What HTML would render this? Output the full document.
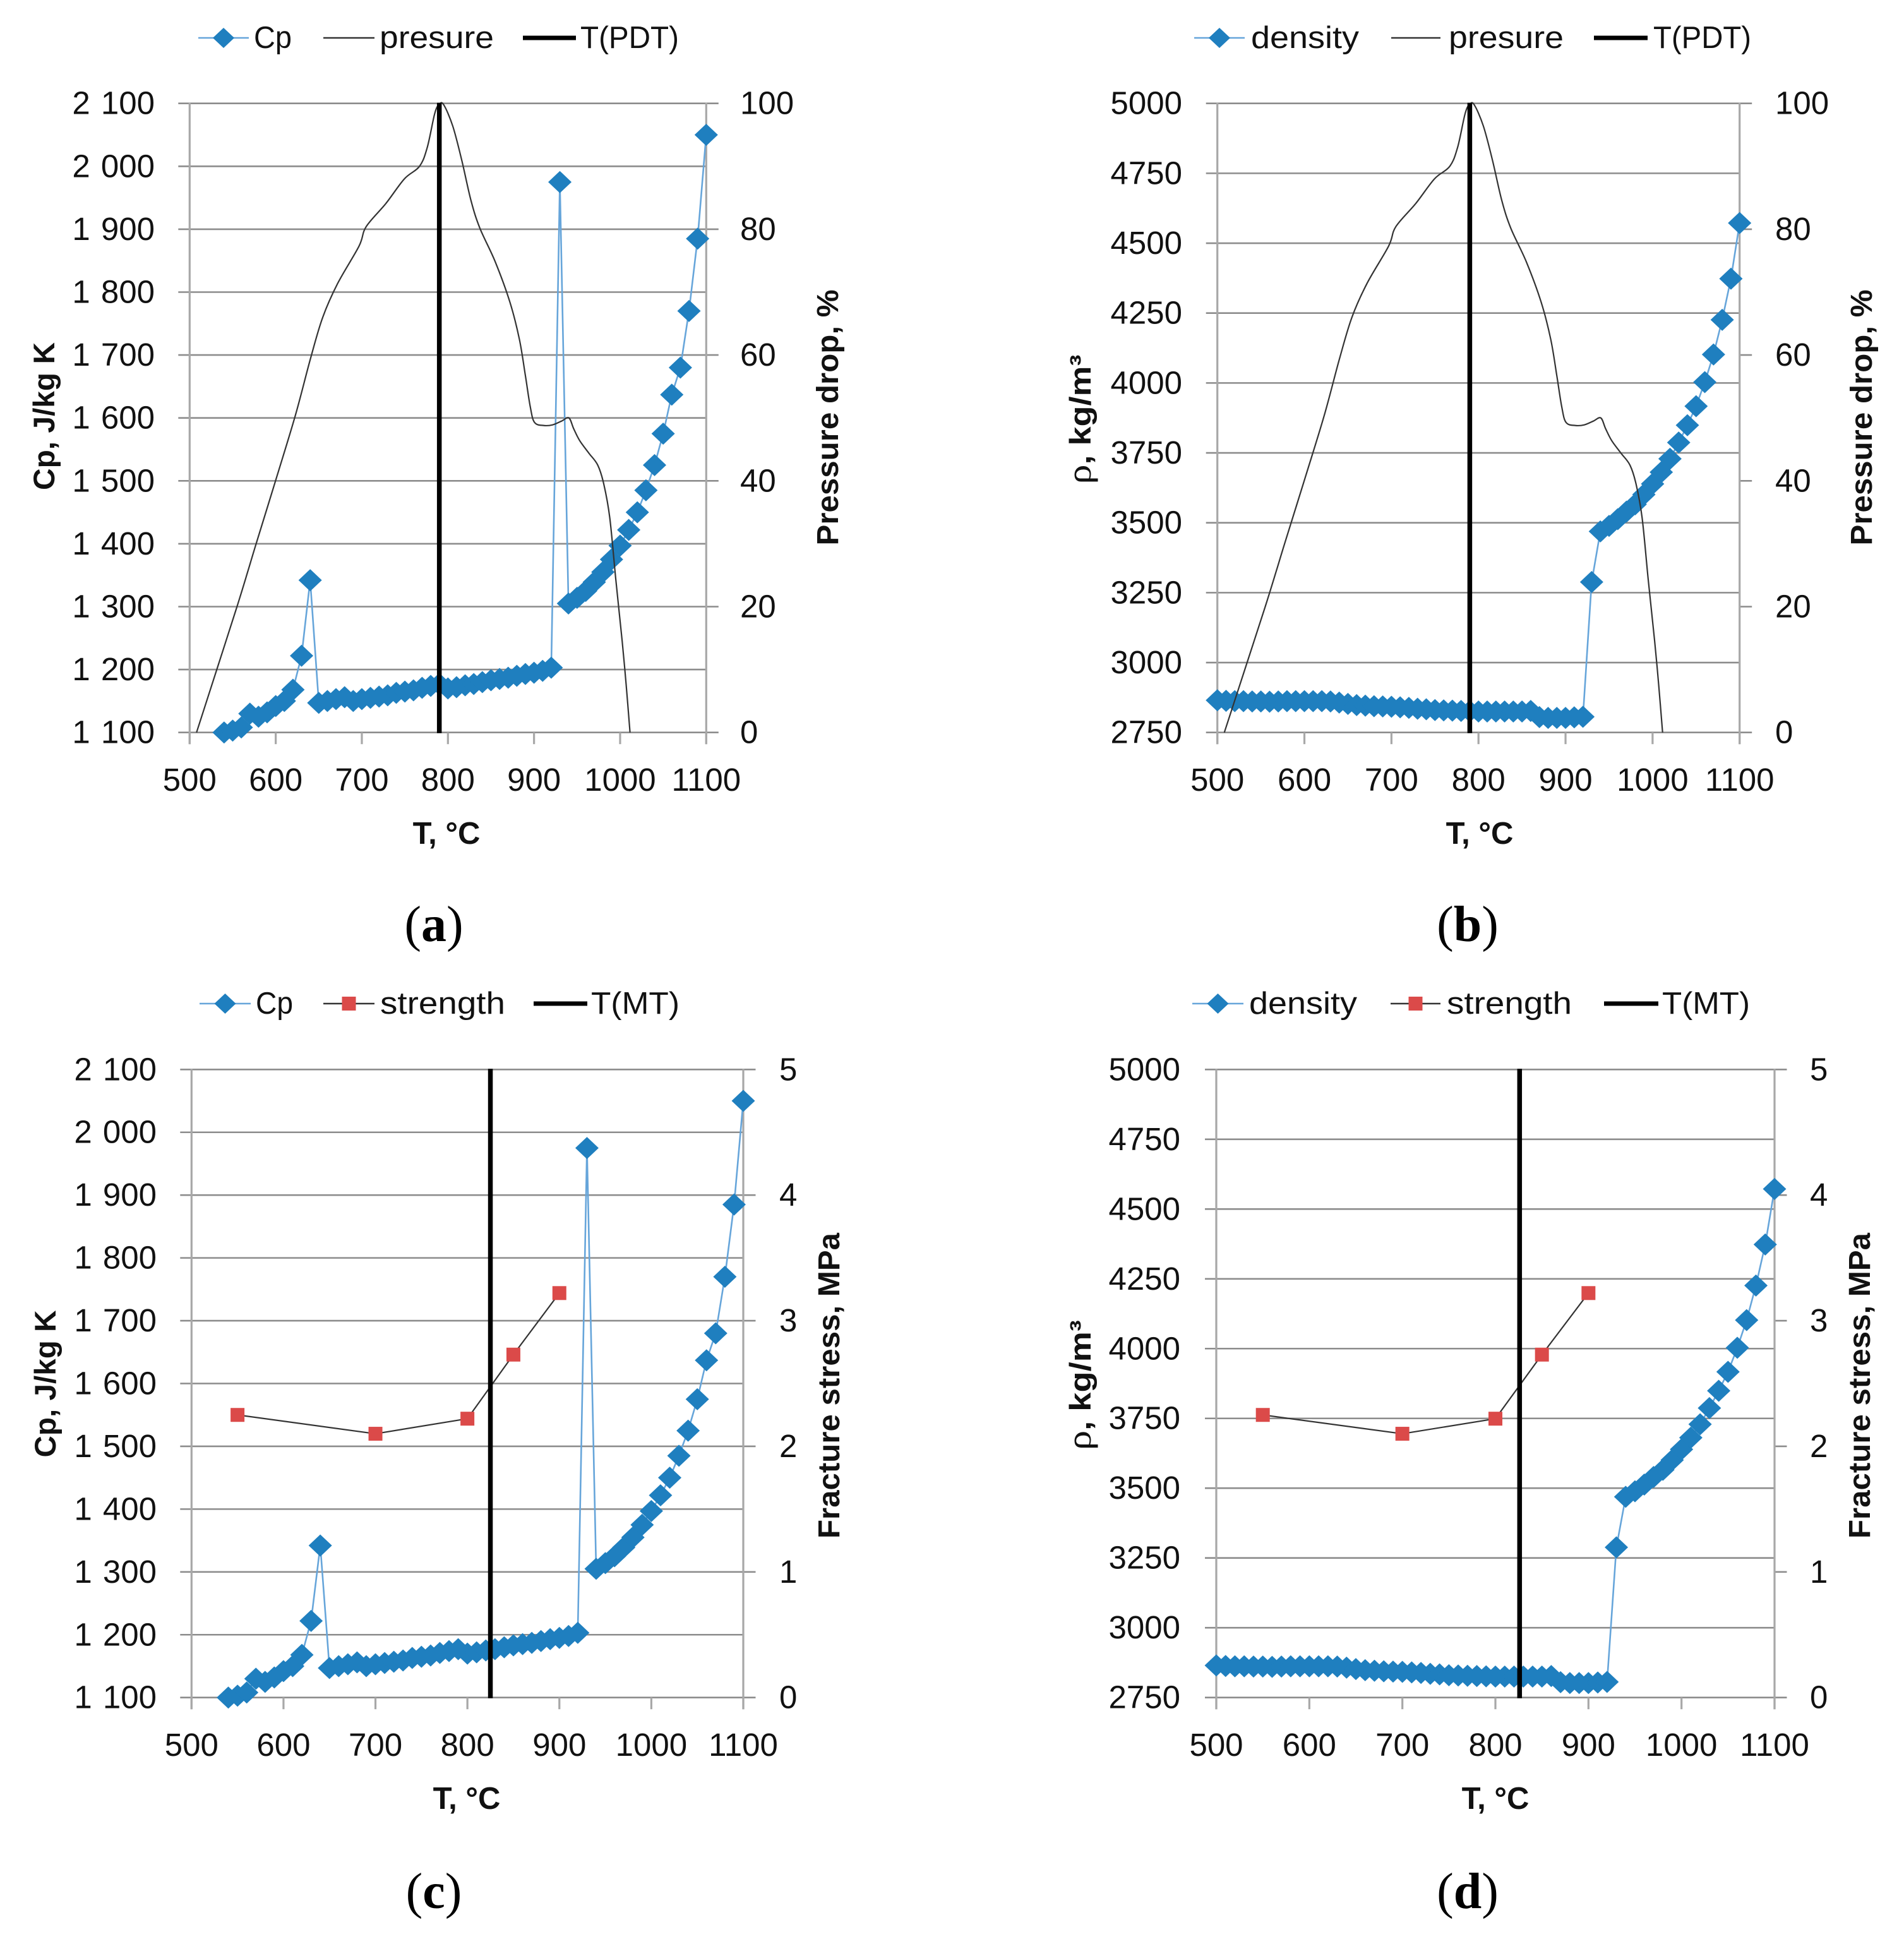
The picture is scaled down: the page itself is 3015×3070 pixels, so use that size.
<!DOCTYPE html>
<html lang="en">
<head>
<meta charset="utf-8">
<title>Cp, density, pressure drop and fracture stress versus temperature</title>
<style>
html,body{margin:0;padding:0;background:#fff;}
svg{display:block;}
text{font-family:"Liberation Sans",sans-serif;fill:#111;}
</style>
</head>
<body>
<svg id="figure" xmlns="http://www.w3.org/2000/svg" width="3015" height="3070" viewBox="0 0 3015 3070">
<rect x="0" y="0" width="3015" height="3070" fill="#ffffff"/>
</svg>
<script>
// ---- chart data ----
const xTicks = [500,600,700,800,900,1000,1100];
const cpTicks = [1100,1200,1300,1400,1500,1600,1700,1800,1900,2000,2100];
const densityTicks = [2750,3000,3250,3500,3750,4000,4250,4500,4750,5000];
const pressureTicks = [0,20,40,60,80,100];
const stressTicks = [0,1,2,3,4,5];

const cpTemps = [540,550,560,570,580,590,600,610,620,630,640,650,660,670,680,690,700,710,720,730,740,750,760,770,780,790,800,810,820,830,840,850,860,870,880,890,900,910,920,930,940,950,960,970,980,990,1000,1010,1020,1030,1040,1050,1060,1070,1080,1090,1100];
const cpValues = [1100,1103,1108,1130,1125,1132,1142,1150,1168,1222,1342,1147,1150,1153,1156,1150,1153,1155,1157,1159,1163,1165,1167,1171,1174,1177,1170,1172,1175,1177,1180,1183,1185,1187,1190,1193,1195,1198,1203,1975,1305,1314,1325,1339,1355,1375,1397,1422,1450,1485,1525,1575,1637,1680,1770,1885,2050];

const densityTemps = [500,510,520,530,540,550,560,570,580,590,600,610,620,630,640,650,660,670,680,690,700,710,720,730,740,750,760,770,780,790,800,810,820,830,840,850,860,870,880,890,900,910,920,930,940,950,960,970,980,990,1000,1010,1020,1030,1040,1050,1060,1070,1080,1090,1100];
const densityValues = [2865,2863,2862,2862,2861,2861,2860,2861,2862,2862,2862,2862,2862,2861,2857,2852,2848,2846,2844,2843,2842,2840,2838,2835,2833,2830,2829,2828,2827,2826,2825,2825,2825,2825,2825,2825,2827,2805,2802,2802,2802,2804,2806,3288,3469,3489,3513,3540,3566,3601,3639,3681,3729,3787,3849,3917,4003,4102,4226,4373,4572];

const pressureTemps = [508,532,555,568,577,602,623,640.5,654.6,672,696.7,705,728,749.4,767,776,784.5,789.5,795,805.6,816,826.7,837,855,872,883,890,895.6,900.5,911,921.6,932,940.5,946,953,963.7,974,981,988,995,1002.4,1007,1011.5];
const pressureValues = [0,10.2,20,25.8,29.9,41,50.5,59.5,66,71.4,77.3,80.4,84.1,88,90,93,98.3,99.8,99.8,96.4,91,84.6,80.2,74.8,68.4,62.5,56.7,51.8,49.3,48.8,48.9,49.5,50,48.3,46.4,44.4,42.5,39.5,34.1,24.3,14.5,7.6,0];

const strengthTemps = [550,700,800,850,900];
const strengthValues = [2.25,2.10,2.22,2.73,3.22];

const pdtTemperature = 790;
const mtTemperature = 825;

// ---- drawing ----
const SVG_NS = 'http://www.w3.org/2000/svg';
const figure = document.getElementById('figure');
const BLUE = '#1f7fbf', BLUE_LINE = '#66a5da', RED = '#db4a49', DARK = '#333333';

function make(parent, tag, attrs, content) {
  const el = document.createElementNS(SVG_NS, tag);
  for (const k in attrs) el.setAttribute(k, attrs[k]);
  if (content !== undefined) el.textContent = content;
  parent.appendChild(el);
  return el;
}
function groupThousands(v) {
  const s = String(v);
  return s.length > 3 ? s.slice(0, s.length - 3) + ' ' + s.slice(-3) : s;
}
function pathFrom(xs, ys, fx, fy) {
  return xs.map((x, i) => (i ? 'L' : 'M') + fx(x).toFixed(2) + ' ' + fy(ys[i]).toFixed(2)).join(' ');
}
function smoothPathFrom(xs, ys, fx, fy) {
  const px = xs.map(fx), py = ys.map(fy), n = px.length;
  let d = 'M' + px[0].toFixed(2) + ' ' + py[0].toFixed(2);
  for (let i = 0; i < n - 1; i++) {
    const a = Math.max(i - 1, 0), b = Math.min(i + 2, n - 1);
    const c1x = px[i] + (px[i + 1] - px[a]) / 6, c1y = py[i] + (py[i + 1] - py[a]) / 6;
    const c2x = px[i + 1] - (px[b] - px[i]) / 6, c2y = py[i + 1] - (py[b] - py[i]) / 6;
    d += ' C' + [c1x, c1y, c2x, c2y, px[i + 1], py[i + 1]].map(v => v.toFixed(2)).join(' ');
  }
  return d;
}

function drawChart(p) {
  const g = make(figure, 'g', {});
  
  

  const sx = x => p.left + (x - 500) / 600 * (p.right - p.left);
  const syL = v => p.bottom - (v - p.yMin) / (p.yMax - p.yMin) * (p.bottom - p.top);
  const syR = v => p.bottom - v / p.y2Max * (p.bottom - p.top);

  // gridlines and left ticks
  p.yTicks.forEach(v => {
    const grid = make(g, 'line', {x1: p.left - 18, x2: p.right, y1: syL(v), y2: syL(v), stroke: '#8c8c8c', 'stroke-width': 2.6});
    
    
    const label = make(g, 'text', {x: p.leftLabelX, y: syL(v) + 17, 'text-anchor': 'end', 'font-size': 51, 'word-spacing': 3}, p.formatY(v));
    
    
  });
  // right ticks
  p.y2Ticks.forEach(v => {
    const tick = make(g, 'line', {x1: p.right, x2: p.right + 19.5, y1: syR(v), y2: syR(v), stroke: '#8c8c8c', 'stroke-width': 2.6});
    
    
    const label = make(g, 'text', {x: p.rightLabelX, y: syR(v) + 17, 'font-size': 51}, String(v));
    
    
  });
  // vertical axes
  const leftAxis = make(g, 'line', {x1: p.left, x2: p.left, y1: p.top - 1, y2: p.bottom + 18.5, stroke: '#a8a8a8', 'stroke-width': 3.2});
  
  
  const rightAxis = make(g, 'line', {x1: p.right, x2: p.right, y1: p.top - 1, y2: p.bottom + 18.5, stroke: '#a8a8a8', 'stroke-width': 3.2});
  
  
  // x ticks
  xTicks.forEach(v => {
    const tick = make(g, 'line', {x1: sx(v), x2: sx(v), y1: p.bottom, y2: p.bottom + 18.5, stroke: '#a8a8a8', 'stroke-width': 3.2});
    
    
    const label = make(g, 'text', {x: sx(v), y: p.xLabelY, 'text-anchor': 'middle', 'font-size': 51}, String(v));
    
    
  });

  // main (blue) series
  const mainLine = make(g, 'path', {d: pathFrom(p.mainX, p.mainY, sx, syL), fill: 'none', stroke: BLUE_LINE, 'stroke-width': 2.6});
  
  
  p.mainX.forEach((x, i) => {
    const cx = sx(x), cy = syL(p.mainY[i]);
    const mark = make(g, 'polygon', {points: `${cx - 18.5},${cy} ${cx},${cy - 17.5} ${cx + 18.5},${cy} ${cx},${cy + 17.5}`, fill: BLUE});
    
    
  });

  // secondary series
  const secondD = p.secondMarkers ? pathFrom(p.secondX, p.secondY, sx, syR) : smoothPathFrom(p.secondX, p.secondY, sx, syR);
  const secondLine = make(g, 'path', {d: secondD, fill: 'none', stroke: DARK, 'stroke-width': 2.2, 'stroke-linejoin': 'round'});
  
  
  if (p.secondMarkers) {
    p.secondX.forEach((x, i) => {
      const mark = make(g, 'rect', {x: sx(x) - 11, y: syR(p.secondY[i]) - 11, width: 22, height: 22, fill: RED});
      
      
    });
  }

  // vertical temperature marker
  const marker = make(g, 'line', {x1: sx(p.vline), x2: sx(p.vline), y1: p.top - 1, y2: p.bottom + 1, stroke: '#000000', 'stroke-width': 7.5});
  
  

  // axis titles
  const xTitle = make(g, 'text', {x: p.xTitleX, y: p.xTitleY, 'text-anchor': 'middle', 'font-size': 49, 'font-weight': 'bold'}, 'T, °C');
  
  

  const yTitle = make(g, 'text', {transform: `translate(${p.yTitle.x} ${p.yTitle.y}) rotate(-90)`, 'text-anchor': 'middle', 'font-size': 47, 'font-weight': 'bold', textLength: p.yTitle.len, lengthAdjust: 'spacingAndGlyphs'});
  
  
  if (p.yTitle.rho) {
    make(yTitle, 'tspan', {'font-family': '"Liberation Serif",serif', 'font-weight': 'normal', 'font-size': 54}, 'ρ');
    make(yTitle, 'tspan', {}, ', kg/m³');
  } else {
    yTitle.textContent = p.yTitle.text;
  }

  const y2Title = make(g, 'text', {transform: `translate(${p.y2Title.x} ${p.y2Title.y}) rotate(-90)`, 'text-anchor': 'middle', 'font-size': 48, 'font-weight': 'bold', textLength: p.y2Title.len, lengthAdjust: 'spacingAndGlyphs'}, p.y2Title.text);
  
  

  // legend
  const lg = make(g, 'g', {});
  
  
  const ly = p.legendY;
  p.legend.forEach(e => {
    const item = make(lg, 'g', {});
    
    
    const col = e.type === 'main' ? BLUE_LINE : (e.type === 'vline' ? '#000000' : DARK);
    make(item, 'line', {x1: e.x1, x2: e.x2, y1: ly, y2: ly, stroke: col, 'stroke-width': e.type === 'vline' ? 7 : 2.4});
    const mx = (e.x1 + e.x2) / 2;
    if (e.type === 'main') {
      make(item, 'polygon', {points: `${mx - 17},${ly} ${mx},${ly - 16} ${mx + 17},${ly} ${mx},${ly + 16}`, fill: BLUE});
    }
    if (e.type === 'square') {
      make(item, 'rect', {x: mx - 11, y: ly - 11, width: 22, height: 22, fill: RED});
    }
    make(item, 'text', {x: e.tx, y: ly + 16, 'font-size': 49, fill: '#222', textLength: e.tw, lengthAdjust: 'spacingAndGlyphs'}, e.label);
  });

  // panel caption
  const cap = make(g, 'text', {x: p.captionX, y: p.captionY, 'text-anchor': 'middle', 'font-size': 80, 'font-family': '"Liberation Serif",serif', fill: '#000'});
  
  
  make(cap, 'tspan', {'font-family': '"Liberation Serif",serif', fill: '#000'}, '(');
  make(cap, 'tspan', {'font-family': '"Liberation Serif",serif', 'font-weight': 'bold', fill: '#000'}, p.caption);
  make(cap, 'tspan', {'font-family': '"Liberation Serif",serif', fill: '#000'}, ')');
}

drawChart({
  id: 'chart-a-cp-pressure', left: 300.3, right: 1118.3, top: 163.7, bottom: 1159.7,
  yMin: 1100, yMax: 2100, yTicks: cpTicks, formatY: groupThousands, y2Max: 100, y2Ticks: pressureTicks,
  leftLabelX: 245, rightLabelX: 1172, xLabelY: 1252, xTitleX: 707, xTitleY: 1336,
  mainX: cpTemps, mainY: cpValues, mainName: 'cp',
  secondX: pressureTemps, secondY: pressureValues, secondName: 'pressure', secondMarkers: false,
  vline: pdtTemperature, vlineName: 'pdt-temperature-line',
  yTitle: {text: 'Cp, J/kg K', x: 86, y: 659, len: 234},
  y2Title: {text: 'Pressure drop, %', x: 1327, y: 661, len: 405},
  legendY: 60,
  legend: [
    {type: 'main', x1: 314, x2: 394, label: 'Cp', tx: 402, tw: 60},
    {type: 'plain', x1: 512, x2: 593, label: 'presure', tx: 601, tw: 181},
    {type: 'vline', x1: 828, x2: 912, label: 'T(PDT)', tx: 919, tw: 156}
  ],
  caption: 'a', captionX: 687, captionY: 1490
});

drawChart({
  id: 'chart-b-density-pressure', left: 1927.7, right: 2754.7, top: 163.7, bottom: 1159.7,
  yMin: 2750, yMax: 5000, yTicks: densityTicks, formatY: String, y2Max: 100, y2Ticks: pressureTicks,
  leftLabelX: 1872, rightLabelX: 2811, xLabelY: 1252, xTitleX: 2343, xTitleY: 1336,
  mainX: densityTemps, mainY: densityValues, mainName: 'density',
  secondX: pressureTemps, secondY: pressureValues, secondName: 'pressure', secondMarkers: false,
  vline: pdtTemperature, vlineName: 'pdt-temperature-line',
  yTitle: {rho: true, x: 1727, y: 664, len: 205},
  y2Title: {text: 'Pressure drop, %', x: 2964, y: 661, len: 405},
  legendY: 60,
  legend: [
    {type: 'main', x1: 1891, x2: 1971, label: 'density', tx: 1981, tw: 171},
    {type: 'plain', x1: 2203, x2: 2281, label: 'presure', tx: 2294, tw: 182},
    {type: 'vline', x1: 2524, x2: 2609, label: 'T(PDT)', tx: 2618, tw: 155}
  ],
  caption: 'b', captionX: 2324, captionY: 1490
});

drawChart({
  id: 'chart-c-cp-strength', left: 303.3, right: 1177, top: 1693.3, bottom: 2687.7,
  yMin: 1100, yMax: 2100, yTicks: cpTicks, formatY: groupThousands, y2Max: 5, y2Ticks: stressTicks,
  leftLabelX: 248, rightLabelX: 1234, xLabelY: 2780, xTitleX: 739, xTitleY: 2864,
  mainX: cpTemps, mainY: cpValues, mainName: 'cp',
  secondX: strengthTemps, secondY: strengthValues, secondName: 'strength', secondMarkers: true,
  vline: mtTemperature, vlineName: 'mt-temperature-line',
  yTitle: {text: 'Cp, J/kg K', x: 88, y: 2191, len: 233},
  y2Title: {text: 'Fracture stress, MPa', x: 1329, y: 2194, len: 484},
  legendY: 1589,
  legend: [
    {type: 'main', x1: 316, x2: 397, label: 'Cp', tx: 405, tw: 59},
    {type: 'square', x1: 512, x2: 593, label: 'strength', tx: 602, tw: 198},
    {type: 'vline', x1: 845, x2: 930, label: 'T(MT)', tx: 936, tw: 140}
  ],
  caption: 'c', captionX: 687, captionY: 3021
});

drawChart({
  id: 'chart-d-density-strength', left: 1926, right: 2810, top: 1693.3, bottom: 2687.7,
  yMin: 2750, yMax: 5000, yTicks: densityTicks, formatY: String, y2Max: 5, y2Ticks: stressTicks,
  leftLabelX: 1869, rightLabelX: 2866, xLabelY: 2780, xTitleX: 2368, xTitleY: 2864,
  mainX: densityTemps, mainY: densityValues, mainName: 'density',
  secondX: strengthTemps, secondY: strengthValues, secondName: 'strength', secondMarkers: true,
  vline: mtTemperature + 1, vlineName: 'mt-temperature-line',
  yTitle: {rho: true, x: 1727, y: 2193, len: 206},
  y2Title: {text: 'Fracture stress, MPa', x: 2961, y: 2194, len: 484},
  legendY: 1589,
  legend: [
    {type: 'main', x1: 1888, x2: 1969, label: 'density', tx: 1978, tw: 171},
    {type: 'square', x1: 2202, x2: 2281, label: 'strength', tx: 2291, tw: 198},
    {type: 'vline', x1: 2540, x2: 2626, label: 'T(MT)', tx: 2632, tw: 139}
  ],
  caption: 'd', captionX: 2324, captionY: 3021
});
</script>
</body>
</html>
